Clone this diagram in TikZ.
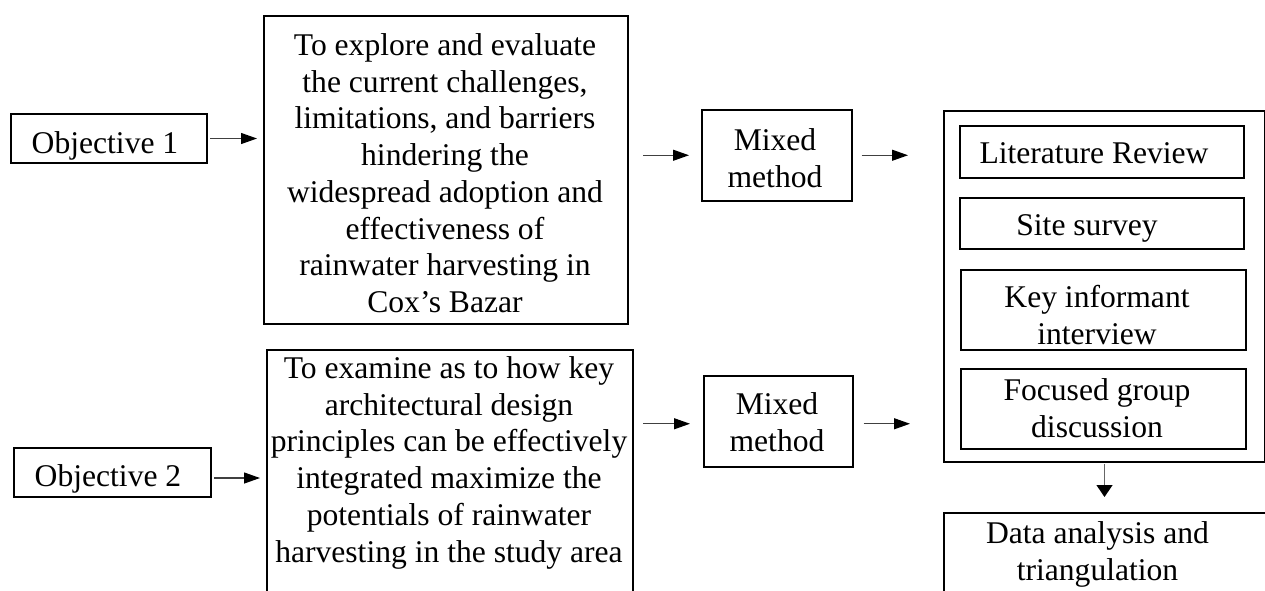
\documentclass[tikz,border=0pt]{standalone}
\usepackage{fontspec}
\setmainfont{Liberation Serif}
\usetikzlibrary{arrows.meta}
\begin{document}
\begin{tikzpicture}[x=1pt,y=-1pt,
  bx/.style={draw, line width=2pt, inner sep=0pt, anchor=north west},
  sbx/.style={draw, line width=1.5pt, inner sep=0pt, anchor=north west},
  tx/.style={inner sep=0pt, align=center, font=\fontsize{31.6pt}{36.7pt}\selectfont},
  arr/.style={draw=black!75, line width=1.2pt, -{Triangle[length=16pt,width=11pt,color=black]}},
  darr/.style={draw=black!60, line width=1.2pt, -{Triangle[length=12pt,width=16pt,color=black]}}]
\useasboundingbox (0,0) rectangle (1265,590);
\clip (0,0) rectangle (1265,590);
% objective 1 row
\node[bx, minimum width=196pt, minimum height=49pt] (o1) at (10,113) {};
\node[tx, anchor=base] (o1t) at (105,153) {Objective 1};
\node[bx, line width=2.2pt, minimum width=364pt, minimum height=308pt] (b1) at (263,15) {};
\node[tx, anchor=north] (b1t) at (445,33.4) {To explore and evaluate\\the current challenges,\\limitations, and barriers\\hindering the\\widespread adoption and\\effectiveness of\\rainwater harvesting in\\Cox’s Bazar};
\node[sbx, minimum width=150pt, minimum height=91pt] (m1) at (701,109) {};
\node[tx, anchor=north] (m1t) at (775,128.4) {Mixed\\method};
% objective 2 row
\node[bx, minimum width=197pt, minimum height=49pt] (o2) at (13,447) {};
\node[tx, anchor=base] (o2t) at (108,486) {Objective 2};
\node[bx, line width=2.2pt, minimum width=366pt, minimum height=280pt] (b2) at (266,349) {};
\node[tx, anchor=north] (b2t) at (449,356.4) {To examine as to how key\\architectural design\\principles can be effectively\\integrated maximize the\\potentials of rainwater\\harvesting in the study area};
\node[sbx, minimum width=149pt, minimum height=91pt] (m2) at (703,375) {};
\node[tx, anchor=north] (m2t) at (777,392.4) {Mixed\\method};
% methods column
\node[bx, minimum width=321pt, minimum height=351pt] (ob) at (943,110) {};
\node[sbx, minimum width=284pt, minimum height=52pt] (lr) at (959,125) {};
\node[tx, anchor=base] (lrt) at (1094,163) {Literature Review};
\node[sbx, minimum width=284pt, minimum height=51pt] (ss) at (959,197) {};
\node[tx, anchor=base] (sst) at (1087,235) {Site survey};
\node[sbx, minimum width=285pt, minimum height=80pt] (ki) at (960,269) {};
\node[tx, anchor=north] (kit) at (1097,285.4) {Key informant\\interview};
\node[sbx, minimum width=285pt, minimum height=80pt] (fg) at (960,368) {};
\node[tx, anchor=north] (fgt) at (1097,378.4) {Focused group\\discussion};
\node[sbx, minimum width=330pt, minimum height=120pt] (db) at (943,512) {};
\node[tx, anchor=north] (dbt) at (1097.5,521.4) {Data analysis and\\triangulation};
% connectors
\draw[arr, shorten <=2pt, shorten >=6pt] (o1.east) -- (o1.east -| b1.west);
\draw[arr, shorten <=14pt, shorten >=12pt] (b1.east |- m1.west) -- (m1.west);
\draw[arr, shorten <=9pt, shorten >=35pt] (m1.east) -- (m1.east -| ob.west);
\draw[arr, shorten <=2pt, shorten >=6pt, transform canvas={yshift=-5.5pt}] (o2.east) -- (o2.east -| b2.west);
\draw[arr, shorten <=9pt, shorten >=13pt, transform canvas={yshift=-2.5pt}] (b2.east |- m2.west) -- (m2.west);
\draw[arr, shorten <=10pt, shorten >=33pt, transform canvas={yshift=-2.5pt}] (m2.east) -- (m2.east -| ob.west);
\draw[darr, shorten <=1pt, shorten >=15pt] (ob.south) -- (ob.south |- db.north);
\end{tikzpicture}
\end{document}
